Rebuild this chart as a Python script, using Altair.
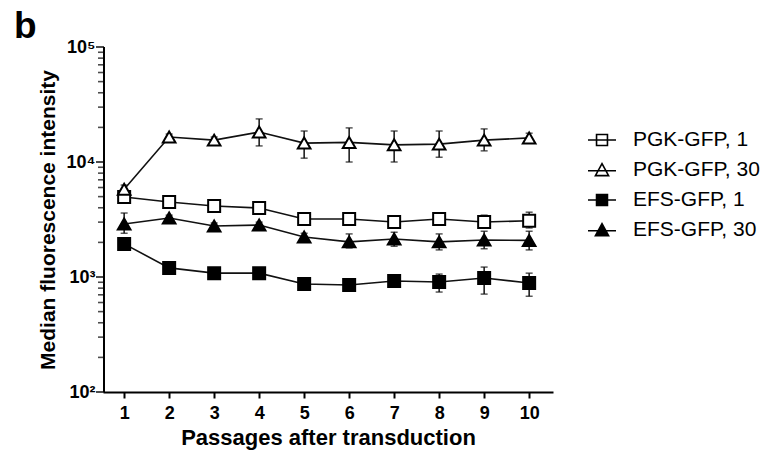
import math
import altair as alt
import pandas as pd

passages = [1, 2, 3, 4, 5, 6, 7, 8, 9, 10]
series_names = ["PGK-GFP, 1", "PGK-GFP, 30", "EFS-GFP, 1", "EFS-GFP, 30"]

pgk1 = [4960, 4490, 4140, 3980, 3190, 3190, 3010, 3190, 3010, 3080]
pgk1_hi = [5300, 4700, 4300, 4200, 3400, 3400, 3200, 3550, 3450, 3660]
pgk1_lo = [4600, 4300, 3950, 3800, 3000, 3000, 2850, 2850, 2700, 2670]

pgk30 = [5800, 16500, 15500, 18200, 14600, 14800, 14100, 14300, 15500, 16200]
pgk30_hi = [6300, 17500, 16500, 23700, 18600, 19800, 18600, 18600, 19400, 17800]
pgk30_lo = [5400, 15500, 14500, 13800, 10800, 10000, 10000, 11000, 12500, 14800]

efs1 = [1940, 1200, 1080, 1080, 870, 852, 923, 905, 980, 887]
efs1_hi = [2050, 1270, 1140, 1140, 920, 900, 980, 1060, 1220, 1080]
efs1_lo = [1830, 1130, 1020, 1020, 820, 800, 870, 740, 710, 680]

efs30 = [2890, 3260, 2780, 2830, 2230, 2020, 2140, 2020, 2100, 2080]
efs30_hi = [3600, 3450, 2950, 3000, 2400, 2370, 2450, 2370, 2500, 2500]
efs30_lo = [2400, 3050, 2600, 2650, 2050, 1790, 1850, 1720, 1760, 1720]

major_ticks = [100, 1000, 10000, 100000]
minor_ticks = [m * d for d in (100, 1000, 10000) for m in range(2, 10)]

rows = []
for name, vals, his, los in [
    (series_names[0], pgk1, pgk1_hi, pgk1_lo),
    (series_names[1], pgk30, pgk30_hi, pgk30_lo),
    (series_names[2], efs1, efs1_hi, efs1_lo),
    (series_names[3], efs30, efs30_hi, efs30_lo),
]:
    for p, v, h, l in zip(passages, vals, his, los):
        rows.append({"series": name, "passage": p, "value": v, "hi": h, "lo": l})
df = pd.DataFrame(rows)

major_df = pd.DataFrame({"lv": [math.log10(v) for v in major_ticks]})
minor_df = pd.DataFrame({"lv": [math.log10(v) for v in minor_ticks]})

FONT = "Liberation Sans"
x_domain = [0.53, 10.53]
y_domain = [2, 5]  # log10 of 10^2 .. 10^5
xscale = alt.Scale(domain=x_domain, nice=False, zero=False)
yscale = alt.Scale(type="linear", domain=y_domain, nice=False, zero=False)

xaxis = alt.Axis(
    values=passages, format="d", domain=True, ticks=True,
    tickSize=6, tickWidth=2, domainWidth=2,
    domainColor="black", tickColor="black", labelColor="black",
    labelFontSize=18, labelFontWeight="bold", labelFont=FONT, labelPadding=6,
    title="Passages after transduction", titleFontSize=22, titleFontWeight="bold",
    titleFont=FONT, titleColor="black", titlePadding=5, grid=False,
)

label_expr = (
    "abs(datum.value - 2) < 1e-6 ? '10\u00b2' : abs(datum.value - 3) < 1e-6 ? '10\u00b3' : "
    "abs(datum.value - 4) < 1e-6 ? '10\u2074' : abs(datum.value - 5) < 1e-6 ? '10\u2075' : ''"
)

yaxis = alt.Axis(
    values=[math.log10(v) for v in major_ticks], labelExpr=label_expr,
    domain=False, ticks=False,
    labelColor="black", labelFontSize=18,
    labelFontWeight="bold", labelFont=FONT, labelPadding=8,
    labelOverlap=False, labelFlush=False,
    title="Median fluorescence intensity", titleFontSize=21,
    titleFontWeight="bold", titleFont=FONT, titleColor="black",
    titlePadding=8, grid=False,
)

Xp = alt.X("passage:Q", scale=xscale, axis=xaxis)
Yp = alt.Y("lv:Q", scale=yscale, axis=yaxis)
Xmin = alt.X(datum=x_domain[0], type="quantitative", scale=xscale, axis=xaxis)

# y axis line and ticks drawn through the scales
y_domain_line = alt.Chart(major_df).mark_rule(color="black", strokeWidth=2, xOffset=1).encode(
    x=Xmin,
    y=alt.Y(datum=y_domain[0], type="quantitative", scale=yscale, axis=yaxis),
    y2=alt.Y2(datum=y_domain[1]),
)
y_major = alt.Chart(major_df).mark_tick(
    color="black", thickness=2, size=8, orient="horizontal", xOffset=-3
).encode(x=Xmin, y=Yp)
y_minor = alt.Chart(minor_df).mark_tick(
    color="black", thickness=1.6, size=6, orient="horizontal", xOffset=-2
).encode(x=Xmin, y=Yp)

base = alt.Chart(df).transform_calculate(
    lv="log(datum.value) / LN10",
    llo="log(datum.lo) / LN10",
    lhi="log(datum.hi) / LN10",
)

lines = base.mark_line(color="#111", strokeWidth=1.6).encode(
    x=Xp, y=Yp, detail="series:N",
)

rules = base.mark_rule(color="#111", strokeWidth=1.5).encode(
    x=Xp, y=alt.Y("llo:Q", scale=yscale, axis=yaxis), y2="lhi:Q",
)
cap_hi = base.mark_tick(color="#111", thickness=1.5, size=7, orient="horizontal").encode(
    x=Xp, y=alt.Y("lhi:Q", scale=yscale, axis=yaxis),
)
cap_lo = base.mark_tick(color="#111", thickness=1.5, size=7, orient="horizontal").encode(
    x=Xp, y=alt.Y("llo:Q", scale=yscale, axis=yaxis),
)

shapes = {series_names[0]: ("square", "white"),
          series_names[1]: ("triangle-up", "white"),
          series_names[2]: ("square", "black"),
          series_names[3]: ("triangle-up", "black")}

point_layers = []
for name in series_names:
    shp, fill = shapes[name]
    size = 144 if shp == "square" else 160
    point_layers.append(
        base.transform_filter(alt.datum.series == name)
        .mark_point(shape=shp, filled=True, fill=fill, stroke="black",
                    strokeWidth=2, size=size, opacity=1)
        .encode(x=Xp, y=Yp)
    )

legend_paths = [
    "M-1,0H1M-0.39,-0.39H0.39V0.39H-0.39Z",
    "M-1,0.05H1M0,-0.45L0.47,0.4H-0.47Z",
    "M-1,0H1M-0.39,-0.39H0.39V0.39H-0.39Z",
    "M-1,0.05H1M0,-0.45L0.47,0.4H-0.47Z",
]
leg = alt.Legend(
    orient="none", legendX=484, legendY=78, title=None, symbolSize=784,
    symbolStrokeWidth=1.6, symbolOpacity=1,
    labelFontSize=21, labelFont=FONT, labelColor="black", labelOffset=16,
    rowPadding=5, padding=0, labelLimit=300,
)
legend_layer = (
    base.transform_filter("false")
    .mark_point(filled=False, strokeWidth=1.6, opacity=1)
    .encode(
        x=Xp, y=Yp,
        shape=alt.Shape("series:N", scale=alt.Scale(domain=series_names, range=legend_paths), legend=leg),
        fill=alt.Fill("series:N", scale=alt.Scale(domain=series_names, range=["white", "white", "black", "black"]), legend=leg),
        stroke=alt.Stroke("series:N", scale=alt.Scale(domain=series_names, range=["black", "black", "black", "black"]), legend=leg),
    )
)

chart = (
    alt.layer(lines, y_domain_line, y_major, y_minor, rules, cap_hi, cap_lo,
              *point_layers, legend_layer)
    .properties(
        width=450, height=345,
        autosize=alt.AutoSizeParams(type="none"),
        padding={"left": 103, "top": 47, "right": 216, "bottom": 68},
        title=alt.TitleParams("b", fontSize=37, fontWeight="bold", font=FONT,
                              anchor="start", frame="group", dx=-89, offset=-8,
                              color="black"),
    )
    .configure(background="white")
    .configure_view(stroke=None)
)

chart.save("out.html", embed_options={"renderer": "svg", "actions": False})
